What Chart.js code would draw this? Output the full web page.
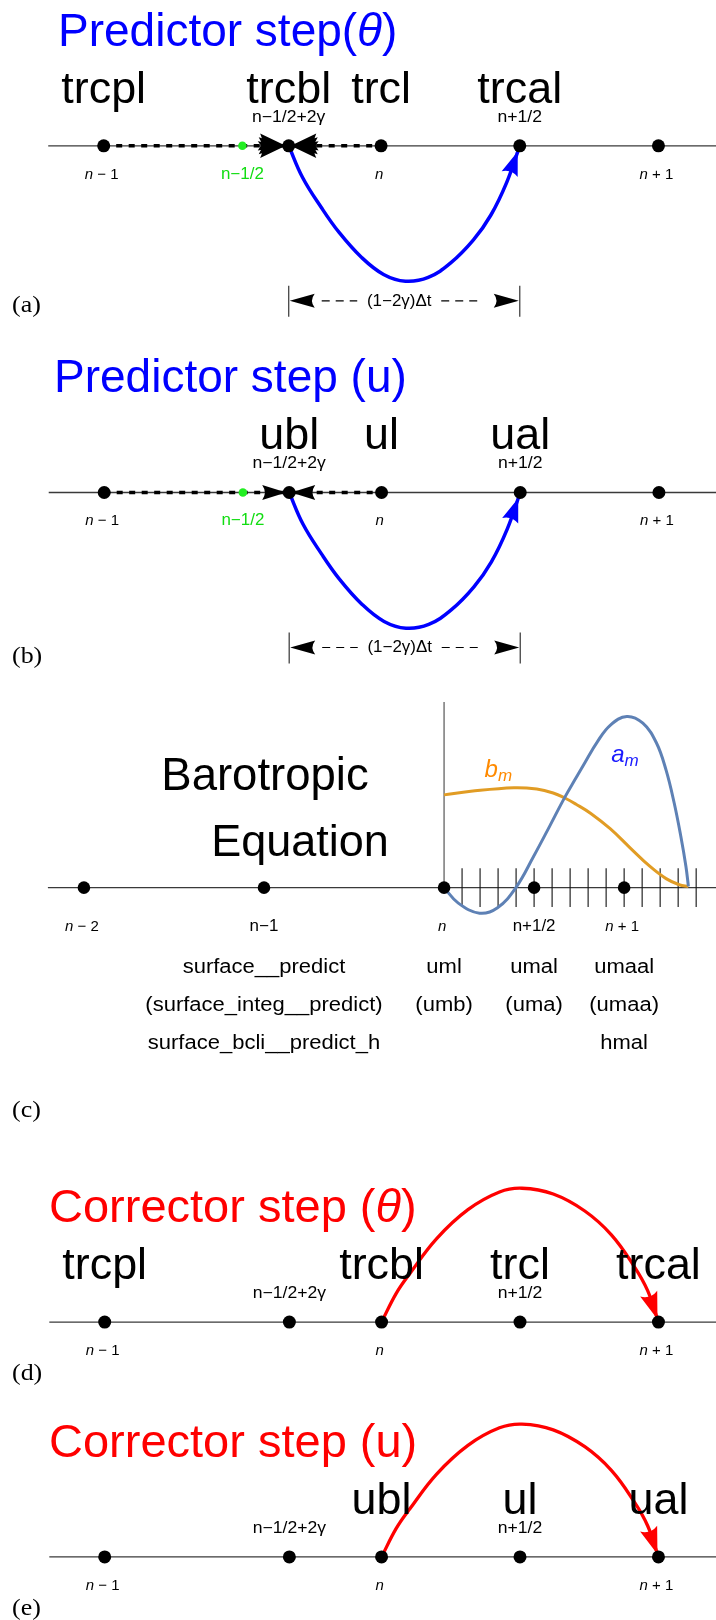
<!DOCTYPE html>
<html><head><meta charset="utf-8">
<script src="https://cdn.jsdelivr.net/npm/chart.js@4.4.1/dist/chart.umd.min.js"></script>
<style>
html,body{margin:0;padding:0;background:#fff;}
#wrap{position:relative;width:716px;height:1620px;overflow:hidden;background:#fff;}
canvas{position:absolute;left:0;}
</style></head><body><div id="wrap">
<canvas id="pa" width="716" height="330" style="top:0px;width:716px;height:330px"></canvas>
<canvas id="pb" width="716" height="350" style="top:330px;width:716px;height:350px"></canvas>
<canvas id="pc" width="716" height="460" style="top:680px;width:716px;height:460px"></canvas>
<canvas id="pd" width="716" height="255" style="top:1140px;width:716px;height:255px"></canvas>
<canvas id="pe" width="716" height="225" style="top:1395px;width:716px;height:225px"></canvas>
</div>
<script>
// ================= DATA (time positions in steps, relative to n) =================
// Predictor panels (a) and (b)
const predAxisSpan  = [-1.2, 1.3];
const predDots      = [-1, -0.333, 0, 0.5, 1];
const predGreenDot  = [-0.5];
const predTickPos   = [-1, -0.5, 0, 1];
const predTickText  = ['n − 1', 'n−1/2', 'n', 'n + 1'];
const predVarPosA   = [-1, -0.333, 0, 0.5];
const predVarsA     = ['trcpl', 'trcbl', 'trcl', 'trcal'];
const predVarPosB   = [-0.333, 0, 0.5];
const predVarsB     = ['ubl', 'ul', 'ual'];
const predSubPos    = [-0.333, 0.5];
const predSubText   = ['n−1/2+2γ', 'n+1/2'];
const predDashed    = [-1, 0];
const predArcX      = [-0.333, -0.283, -0.216, -0.152, -0.071, 0.009, 0.088, 0.170, 0.251, 0.333, 0.396, 0.453, 0.5];
const predArcY      = [0, -0.234, -0.454, -0.638, -0.823, -0.950, -1.0, -0.972, -0.865, -0.695, -0.511, -0.270, 0];
const predSpan      = [-0.333, 0.5];
const predSpanText  = '(1−2γ)Δt';
const titleA = 'Predictor step(θ)';
const titleB = 'Predictor step (u)';

// Barotropic panel (c)
const baroAxisSpan  = [-2.2, 2];
const baroVAxis     = [0, 1.091];
const baroDots      = [-2, -1, 0, 0.5, 1];
const baroTickText  = ['n − 2', 'n−1', 'n', 'n+1/2', 'n + 1'];
const baroMinorTicks = [0.1, 0.2, 0.3, 0.4, 0.5, 0.6, 0.7, 0.8, 0.9, 1.0, 1.1, 1.2, 1.3, 1.4];
const amX = [0, 0.079, 0.197, 0.297, 0.400, 0.497, 0.586, 0.668, 0.733, 0.777, 0.852, 0.924, 1.015, 1.104, 1.179, 1.233, 1.278, 1.315, 1.343, 1.357];
const amY = [0, -0.091, -0.150, -0.118, 0.002, 0.183, 0.360, 0.526, 0.645, 0.725, 0.858, 0.955, 1.006, 0.966, 0.851, 0.690, 0.497, 0.300, 0.126, 0.007];
const bmX = [0, 0.149, 0.388, 0.515, 0.606, 0.668, 0.733, 0.815, 0.924, 1.033, 1.142, 1.233, 1.306, 1.357];
const bmY = [0.545, 0.566, 0.587, 0.579, 0.556, 0.528, 0.490, 0.436, 0.345, 0.234, 0.126, 0.053, 0.017, 0.006];
const baroRowPos = [-1, 0, 0.5, 1];
const baroRow1 = ['surface__predict', 'uml', 'umal', 'umaal'];
const baroRow2 = ['(surface_integ__predict)', '(umb)', '(uma)', '(umaa)'];
const baroRow3 = ['surface_bcli__predict_h', '', '', 'hmal'];
const baroTitle = ['Barotropic', 'Equation'];

// Corrector panels (d) and (e)
const corAxisSpan  = [-1.2, 1.3];
const corDots      = [-1, -0.333, 0, 0.5, 1];
const corTickPos   = [-1, 0, 1];
const corTickText  = ['n − 1', 'n', 'n + 1'];
const corVarPosD   = [-1, 0, 0.5, 1];
const corVarsD     = ['trcpl', 'trcbl', 'trcl', 'trcal'];
const corVarPosE   = [0, 0.5, 1];
const corVarsE     = ['ubl', 'ul', 'ual'];
const corSubPos    = [-0.333, 0.5];
const corSubText   = ['n−1/2+2γ', 'n+1/2'];
const corArcX      = [0, 0.053, 0.103, 0.199, 0.312, 0.426, 0.507, 0.620, 0.734, 0.830, 0.911, 0.961, 1.0];
const corArcY      = [0, 0.215, 0.365, 0.624, 0.840, 0.972, 1.0, 0.957, 0.830, 0.652, 0.420, 0.235, 0];
const titleD = 'Corrector step (θ)';
const titleE = 'Corrector step (u)';

// ================= STYLE =================
const SANS = '"Liberation Sans", Arial, Helvetica, sans-serif';
const SERIF = '"Liberation Serif", "Times New Roman", serif';
const BLUE = '#0000ff', RED = '#ff0000', GREEN = '#11dd11';
const AM = '#5e81b5', BM = '#e19c24';
const AXIS = '#3a3a3a';

// ================= HELPERS =================
const pts = (xs, ys) => xs.map((x, i) => ({x, y: ys ? ys[i] : 0}));
function lineDs(data, color, width, extra) {
  return Object.assign({data, showLine: true, borderColor: color, borderWidth: width,
    pointRadius: 0, pointHoverRadius: 0, fill: false, clip: false, order: 5, tension: 0}, extra || {});
}
function dotDs(xs, color, r) {
  return {data: pts(xs), showLine: false, pointRadius: r, pointHoverRadius: r,
    pointBackgroundColor: color, pointBorderColor: color, pointBorderWidth: 0, clip: false, order: 0};
}
function drawText(ctx, parts, x, y, o) {
  o = o || {};
  if (typeof parts === 'string') parts = [{t: parts}];
  const size = o.size || 16, fam = o.family || SANS, sx = o.sx || 1, align = o.align || 'center';
  ctx.save();
  ctx.textBaseline = 'alphabetic'; ctx.textAlign = 'left';
  const fonts = parts.map(p => (p.italic ? 'italic ' : '') + (p.size || size) + 'px ' + fam);
  const ws = parts.map((p, i) => { ctx.font = fonts[i]; return ctx.measureText(p.t).width; });
  const tot = ws.reduce((a, b) => a + b, 0) * sx;
  const x0 = align === 'center' ? x - tot / 2 : align === 'right' ? x - tot : x;
  ctx.translate(x0, y); ctx.scale(sx, 1);
  let cx = 0;
  parts.forEach((p, i) => { ctx.font = fonts[i]; ctx.fillStyle = p.color || o.color || '#000';
    ctx.fillText(p.t, cx, p.dy || 0); cx += ws[i]; });
  ctx.restore();
}
function titleParts(s) { return s.split(/(θ)/).filter(Boolean).map(t => ({t, italic: t === 'θ'})); }
function tickLabel(ctx, s, x, y, color) {
  if (s === 'n' || s.indexOf(' ') >= 0) {
    drawText(ctx, [{t: 'n', italic: true}, {t: s.slice(1)}], x - 2, y, {size: 15, color});
  } else {
    drawText(ctx, s, x, y, {size: 16, sx: 1.06, color});
  }
}
function arrowHead(ctx, tx, ty, fx, fy, len, wid, color, rot) {
  const a = Math.atan2(ty - fy, tx - fx) + (rot || 0);
  ctx.save(); ctx.translate(tx, ty); ctx.rotate(a);
  ctx.beginPath(); ctx.moveTo(0, 0);
  ctx.lineTo(-len, wid / 2);
  ctx.quadraticCurveTo(-len * 0.78, 0, -len, -wid / 2);
  ctx.closePath(); ctx.fillStyle = color; ctx.fill();
  ctx.restore();
}
function arcArrow(chart, xs, ys, color, back, len, wid) {
  const X = v => chart.scales.x.getPixelForValue(v), Y = v => chart.scales.y.getPixelForValue(v);
  const n = xs.length;
  const tx = X(xs[n - 1]), ty = Y(ys[n - 1]), fx = X(xs[n - 2]), fy = Y(ys[n - 2]);
  const d = Math.hypot(tx - fx, ty - fy), ux = (tx - fx) / d, uy = (ty - fy) / d;
  arrowHead(chart.ctx, tx - ux * back, ty - uy * back, tx - ux * (back + 5), ty - uy * (back + 5), len, wid, color);
}
function makeChart(id, geo, datasets, draw) {
  const cv = document.getElementById(id);
  const W = cv.width, H = cv.height;
  const xmin = -geo.nPx / geo.ppx, xmax = (W - geo.nPx) / geo.ppx;
  const ymax = geo.axisPx / geo.ppy, ymin = -(H - geo.axisPx) / geo.ppy;
  return new Chart(cv, {
    type: 'scatter',
    data: {datasets},
    options: {
      responsive: false, maintainAspectRatio: false, animation: false, devicePixelRatio: 1, events: [],
      layout: {padding: 0},
      plugins: {legend: {display: false}, tooltip: {enabled: false}},
      scales: {
        x: {type: 'linear', display: false, min: xmin, max: xmax},
        y: {type: 'linear', display: false, min: ymin, max: ymax}
      }
    },
    plugins: [{
      id: 'deco_' + id,
      afterDatasetDraw(chart, args) { if (draw.afterDataset) draw.afterDataset(chart, args.index); },
      afterDraw(chart) { draw.after(chart); }
    }]
  });
}
function helpers(chart) {
  return {
    ctx: chart.ctx,
    X: v => chart.scales.x.getPixelForValue(v),
    Y: v => chart.scales.y.getPixelForValue(v),
    A: chart.scales.y.getPixelForValue(0)
  };
}
function doubleArrow(chart, at, jagged) {
  const {ctx, X, A} = helpers(chart);
  const c = X(at);
  const rots = jagged ? [0, 0.14, -0.14] : [0];
  const L = jagged ? 27 : 24, Wd = jagged ? 17 : 15;
  rots.forEach(r => {
    arrowHead(ctx, c - 3, A, c - 30, A, L, Wd, '#000', r);
    arrowHead(ctx, c + 2, A, c + 30, A, L, Wd, '#000', r);
  });
}
function drawSpan(chart, ax, bx, text) {
  const {ctx, X, A} = helpers(chart);
  const xa = X(ax), xb = X(bx), yc = A + 155;
  ctx.save();
  ctx.strokeStyle = '#444'; ctx.lineWidth = 1.3;
  ctx.beginPath(); ctx.moveTo(xa, A + 140); ctx.lineTo(xa, A + 171);
  ctx.moveTo(xb, A + 140); ctx.lineTo(xb, A + 171); ctx.stroke();
  arrowHead(ctx, xa + 1, yc, xa + 30, yc, 25, 14, '#000');
  arrowHead(ctx, xb - 1, yc, xb - 30, yc, 25, 14, '#000');
  const mid = (xa + xb) / 2 - 5;
  ctx.setLineDash([8, 6]); ctx.strokeStyle = '#000'; ctx.lineWidth = 1.2;
  ctx.beginPath(); ctx.moveTo(xa + 33, yc); ctx.lineTo(mid - 42, yc);
  ctx.moveTo(mid + 42, yc); ctx.lineTo(xb - 40, yc); ctx.stroke();
  ctx.restore();
  drawText(ctx, text, mid, yc + 5, {size: 16, sx: 1.06});
}
function panelLetter(ctx, s, y) { drawText(ctx, s, 12, y, {family: SERIF, size: 24, sx: 1.08, align: 'left'}); }

// ================= PANEL (a) & (b): predictor =================
function predictorPanel(id, geo, title, titleX, varPos, vars, letter, letterDy, jagged) {
  const ds = [
    lineDs(pts(predAxisSpan), AXIS, 1.3, {order: 6}),
    lineDs(pts(predDashed), '#000', 3.5, {borderDash: [6, 6.5], order: 4}),
    lineDs(pts(predArcX, predArcY), BLUE, 3.5, {tension: 0.4, order: 3}),
    dotDs(predDots, '#000', 6.5),
    Object.assign(dotDs(predGreenDot, '#22ee22', 4.3), {order: -1})
  ];
  makeChart(id, geo, ds, {
    afterDataset(chart, i) {
      if (i === 1) doubleArrow(chart, predDots[1], jagged);
      if (i === 2) arcArrow(chart, predArcX, predArcY, BLUE, 6, 24, 17);
    },
    after(chart) {
      const {ctx, X, A} = helpers(chart);
      drawText(ctx, titleParts(title), titleX, A - 100, {size: 46, color: BLUE, align: 'left'});
      vars.forEach((v, i) => drawText(ctx, v, X(varPos[i]), A - 43, {size: 44, sx: 1.02}));
      predSubText.forEach((s, i) => drawText(ctx, s, X(predSubPos[i]), A - 24, {size: 16, sx: 1.1}));
      predTickText.forEach((s, i) => tickLabel(ctx, s, X(predTickPos[i]), A + 33, s === 'n−1/2' ? GREEN : '#000'));
      drawSpan(chart, predSpan[0], predSpan[1], predSpanText);
      panelLetter(ctx, letter, A + letterDy);
    }
  });
}
predictorPanel('pa', {nPx: 381.5, ppx: 282.5, axisPx: 145, ppy: 141}, titleA, 58, predVarPosA, predVarsA, '(a)', 166, true);
predictorPanel('pb', {nPx: 382, ppx: 282.5, axisPx: 162, ppy: 141}, titleB, 54, predVarPosB, predVarsB, '(b)', 171, false);

// ================= PANEL (c): barotropic =================
(function () {
  const tickH = 0.114;
  const tickData = baroMinorTicks.flatMap(t => [{x: t, y: -tickH}, {x: t, y: tickH}, {x: t, y: null}]);
  const ds = [
    lineDs(pts(baroAxisSpan), AXIS, 1.3, {order: 8}),
    lineDs([{x: 0, y: baroVAxis[0]}, {x: 0, y: baroVAxis[1]}], '#555', 1.2, {order: 7}),
    lineDs(tickData, '#111', 1.1, {spanGaps: false, order: 6}),
    lineDs(pts(bmX, bmY), BM, 3, {tension: 0.4, order: 4}),
    lineDs(pts(amX, amY), AM, 3, {tension: 0.4, order: 3}),
    dotDs(baroDots, '#000', 6.3)
  ];
  makeChart('pc', {nPx: 445.6, ppx: 183.3, axisPx: 207, ppy: 175}, ds, {
    after(chart) {
      const {ctx, X, Y, A} = helpers(chart);
      drawText(ctx, baroTitle[0], X(-1) + 1, A - 98, {size: 45.5});
      drawText(ctx, baroTitle[1], X(-0.8), A - 32, {size: 45});
      baroTickText.forEach((s, i) => tickLabel(ctx, s, X(baroDots[i]), A + 43, '#000'));
      [baroRow1, baroRow2, baroRow3].forEach((row, r) => {
        row.forEach((s, i) => { if (s) drawText(ctx, s, X(baroRowPos[i]), A + 85 + r * 38, {size: 20, sx: 1.1}); });
      });
      drawText(ctx, [{t: 'b', italic: true, size: 24}, {t: 'm', italic: true, size: 17, dy: 4}],
        X(0.225), Y(0.651), {color: '#ff8a00', align: 'left'});
      drawText(ctx, [{t: 'a', italic: true, size: 24}, {t: 'm', italic: true, size: 17, dy: 4}],
        X(0.928), Y(0.737), {color: '#1a1aff', align: 'left'});
      panelLetter(ctx, '(c)', A + 229);
    }
  });
})();

// ================= PANEL (d) & (e): corrector =================
function correctorPanel(id, geo, title, varPos, vars, letter) {
  const ds = [
    lineDs(pts(corAxisSpan), AXIS, 1.3, {order: 6}),
    lineDs(pts(corArcX, corArcY), RED, 3.3, {tension: 0.4, order: 3}),
    dotDs(corDots, '#000', 6.5)
  ];
  makeChart(id, geo, ds, {
    afterDataset(chart, i) {
      if (i === 1) arcArrow(chart, corArcX, corArcY, RED, 3, 27, 18);
    },
    after(chart) {
      const {ctx, X, A} = helpers(chart);
      drawText(ctx, titleParts(title), 49, A - 100, {size: 47, color: RED, align: 'left'});
      vars.forEach((v, i) => drawText(ctx, v, X(varPos[i]), A - 43, {size: 44, sx: 1.02}));
      corSubText.forEach((s, i) => drawText(ctx, s, X(corSubPos[i]), A - 24, {size: 16, sx: 1.1}));
      corTickText.forEach((s, i) => tickLabel(ctx, s, X(corTickPos[i]), A + 33, '#000'));
      panelLetter(ctx, letter, A + 58);
    }
  });
}
correctorPanel('pd', {nPx: 382, ppx: 282, axisPx: 185, ppy: 141}, titleD, corVarPosD, corVarsD, '(d)');
correctorPanel('pe', {nPx: 382, ppx: 282, axisPx: 165, ppy: 141}, titleE, corVarPosE, corVarsE, '(e)');
</script></body></html>
